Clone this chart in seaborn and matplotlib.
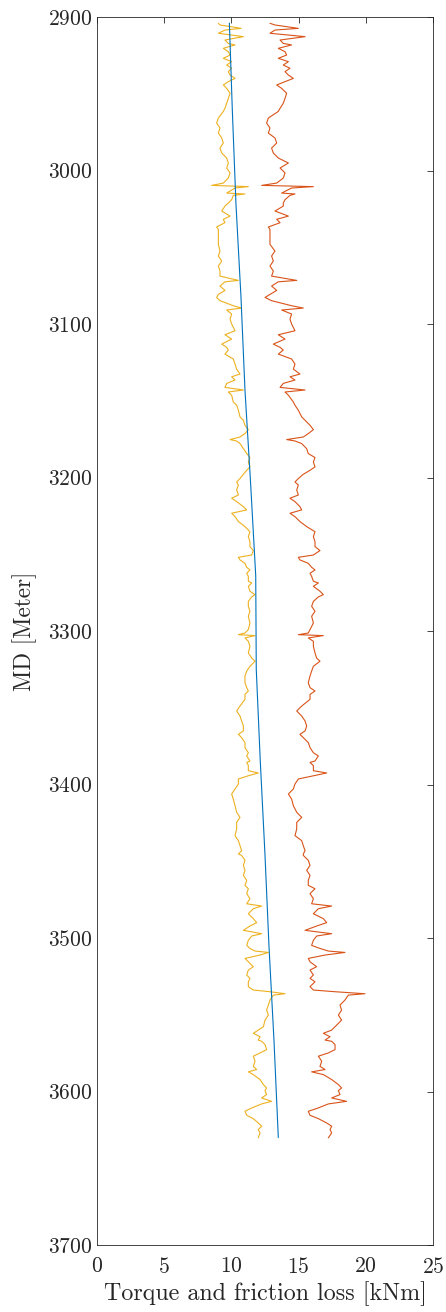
import numpy as np
import pandas as pd
import matplotlib
matplotlib.use("Agg")
import matplotlib.pyplot as plt
import seaborn as sns

# measured depth [m] shared by the two measured traces
md = [
    2904.1, 2905.2, 2907.4, 2908.5, 2910.6, 2912.8, 2915.0, 2917.2, 2918.2, 2920.4, 2922.6, 2924.8, 2926.9,
    2929.1, 2931.3, 2933.4, 2935.6, 2937.8, 2940.0, 2942.1, 2944.3, 2946.5, 2949.7, 2953.0, 2956.2, 2959.5,
    2961.5, 2965.8, 2969.1, 2972.3, 2975.6, 2978.8, 2982.1, 2985.4, 2988.6, 2991.9, 2995.1, 2998.4, 3001.6,
    3004.9, 3008.2, 3009.7, 3010.5, 3011.4, 3014.7, 3015.3, 3016.2, 3019.0, 3021.2,
    3023.2, 3026.4, 3029.7, 3031.8, 3034.0, 3036.8, 3038.4, 3041.6, 3048.1, 3052.5, 3055.7, 3059.0, 3062.2,
    3065.5, 3068.8, 3071.6, 3072.5, 3075.3, 3078.1, 3080.7,
    3082.7, 3084.8, 3088.1, 3089.6, 3090.9, 3093.5, 3096.8, 3100.0, 3104.4, 3107.0, 3109.8, 3113.1, 3115.2,
    3117.0, 3119.6, 3122.8, 3126.1, 3129.4, 3132.6, 3134.4, 3136.5, 3138.7, 3141.3, 3143.0,
    3144.3, 3146.4, 3150.8, 3152.9, 3156.2, 3160.5, 3162.7, 3166.0, 3168.8, 3171.4, 3173.6, 3175.3, 3176.2,
    3177.9, 3181.2, 3184.4, 3187.0, 3189.9, 3193.1, 3195.3, 3197.9, 3200.7, 3202.9,
    3204.9, 3208.1, 3211.4, 3213.5, 3215.7, 3219.0, 3221.1, 3223.3, 3225.5, 3228.7, 3232.0, 3235.3, 3238.5,
    3241.8, 3245.0, 3247.6, 3250.5, 3252.0, 3253.7, 3255.9, 3258.5, 3260.2, 3262.4,
    3264.4, 3267.6, 3268.7, 3270.9, 3274.1, 3276.3, 3277.8, 3280.7, 3283.9, 3287.2, 3290.4, 3294.8, 3299.1,
    3301.3, 3302.4, 3303.0, 3304.5, 3306.7, 3310.0, 3314.3, 3317.6, 3319.7, 3323.0,
    3326.1, 3329.3, 3333.7, 3336.9, 3339.1, 3341.3, 3344.5, 3348.9, 3352.1, 3355.4, 3358.6, 3361.9, 3365.1,
    3367.3, 3369.5, 3372.7, 3376.0, 3379.3, 3381.4, 3384.7,
    3385.6, 3387.7, 3391.0, 3392.5, 3394.3, 3396.4, 3399.7, 3402.9, 3406.2, 3409.5, 3413.8, 3418.1, 3421.4,
    3424.7, 3429.0, 3433.3, 3436.6, 3439.9, 3443.1, 3445.3,
    3446.2, 3449.4, 3452.7, 3455.9, 3459.2, 3462.5, 3465.7, 3467.9, 3471.1, 3474.4, 3477.7, 3479.2, 3480.9,
    3484.2, 3487.4, 3490.0, 3492.2, 3495.0, 3497.2, 3498.7, 3501.5, 3504.8,
    3506.8, 3508.5, 3509.4, 3511.1, 3513.3, 3515.5, 3518.7, 3520.9, 3524.1, 3526.3, 3528.5, 3531.7, 3533.9,
    3535.0, 3536.3, 3537.2, 3540.4, 3543.7, 3547.0, 3550.2, 3553.5, 3557.8, 3560.0, 3562.1, 3564.3, 3566.5,
    3567.3, 3569.4, 3572.7, 3574.9, 3577.0, 3580.3, 3583.6, 3585.7, 3587.2, 3589.0, 3592.2, 3595.5, 3597.7,
    3599.4, 3602.0, 3604.2, 3606.4, 3608.1, 3610.7, 3612.9, 3615.5, 3617.7, 3620.5, 3622.6, 3624.8, 3627.0,
    3630.2,
]

# measured surface torque [kNm] (red)
torque = [
    12.87, 13.24, 14.98, 13.24, 12.87, 15.48, 13.62, 13.86, 14.48, 13.49, 13.99, 14.11, 13.49,
    14.24, 13.86, 14.36, 13.99, 14.24, 14.61, 13.99, 13.37, 13.74, 14.11, 13.99, 13.86, 13.62,
    13.49, 12.75, 12.62, 12.87, 12.75, 13.24, 13.37, 12.99, 13.12, 13.49, 14.24, 13.62, 13.99,
    13.86, 13.37, 12.25, 16.10, 14.48, 13.74, 14.73, 14.36, 13.99, 13.86,
    13.86, 13.24, 14.24, 13.37, 13.62, 12.75, 12.87, 12.87, 12.87, 13.24, 12.99, 13.12, 12.87,
    13.12, 12.99, 14.86, 13.49, 12.99, 13.37, 12.87,
    12.50, 12.99, 14.48, 15.35, 13.74, 14.48, 14.36, 14.48, 14.73, 13.49, 13.99, 13.12, 13.62,
    13.86, 13.49, 14.48, 14.73, 14.61, 15.10, 14.36, 14.73, 13.86, 13.62, 15.48,
    13.99, 14.24, 14.61, 14.73, 14.98, 15.23, 15.48, 15.85, 16.10, 15.72, 15.35, 14.11, 14.73,
    15.23, 15.60, 15.72, 16.22, 16.10, 16.22, 15.85, 15.35, 14.98, 14.73,
    14.98, 14.86, 14.98, 14.36, 14.73, 15.10, 15.23, 14.36, 14.73, 15.10, 15.60, 16.22, 16.10,
    16.22, 16.22, 16.59, 16.10, 14.98, 15.10, 15.72, 15.97, 16.22, 15.85,
    15.97, 16.10, 16.47, 16.10, 16.59, 16.84, 16.47, 16.10, 15.97, 16.22, 15.97, 16.10, 15.85,
    15.72, 14.98, 16.84, 15.72, 16.10, 16.10, 16.22, 16.34, 16.59, 16.10,
    15.97, 15.85, 15.72, 15.85, 16.22, 15.85, 15.85, 15.23, 14.86, 15.23, 15.48, 15.60, 15.48,
    15.10, 15.35, 15.72, 15.85, 16.10, 16.47, 16.22,
    15.85, 16.10, 16.10, 17.09, 16.10, 14.98, 14.73, 14.61, 14.24, 14.48, 14.61, 14.86, 15.23,
    14.86, 14.86, 14.73, 15.23, 15.35, 15.48, 15.35,
    15.35, 15.72, 15.85, 15.60, 15.85, 15.72, 15.72, 16.22, 15.85, 16.10, 15.97, 17.46, 16.47,
    16.10, 16.84, 17.09, 16.34, 15.48, 17.46, 16.34, 16.10, 15.97,
    16.59, 17.21, 18.45, 16.97, 15.72, 15.85, 16.34, 15.85, 16.10, 15.85, 16.22, 15.85, 16.10,
    17.71, 19.94, 18.70, 18.45, 18.08, 18.20, 17.96, 18.20, 17.71, 17.46, 16.84, 17.34, 16.97,
    17.46, 17.71, 17.71, 17.21, 16.47, 16.72, 16.59, 16.97, 15.97, 16.84, 17.46, 17.96, 18.20,
    17.96, 18.08, 17.46, 18.57, 17.21, 16.47, 15.72, 15.85, 16.47, 17.09, 17.46, 17.34, 17.46,
    17.21,
]

# friction loss [kNm] (yellow)
friction = [
    9.03, 9.15, 10.72, 9.52, 9.03, 10.89, 9.52, 9.77, 10.27, 9.40, 9.77, 9.90, 9.40,
    10.02, 9.65, 10.02, 9.77, 9.90, 10.27, 9.77, 9.40, 9.65, 9.90, 9.77, 9.65, 9.52,
    9.40, 9.03, 8.90, 9.15, 9.03, 9.28, 9.40, 9.15, 9.28, 9.65, 9.77, 9.65, 9.90,
    9.77, 9.40, 8.53, 11.26, 10.27, 9.65, 11.01, 10.14, 10.02, 9.77,
    9.52, 9.28, 9.90, 9.40, 9.52, 8.90, 9.03, 9.03, 9.03, 9.15, 9.03, 9.28, 9.03,
    9.15, 9.15, 10.52, 9.52, 9.15, 9.52, 9.03,
    8.90, 9.15, 10.14, 10.76, 9.65, 10.02, 9.90, 10.02, 10.27, 9.52, 10.02, 9.28, 9.65,
    9.77, 9.52, 10.14, 10.27, 10.39, 10.64, 10.02, 10.27, 9.65, 9.52, 10.89,
    9.77, 10.02, 10.14, 10.39, 10.52, 10.64, 10.89, 11.01, 11.26, 11.01, 10.64, 9.90, 10.39,
    10.64, 10.89, 11.14, 11.38, 11.26, 11.38, 11.14, 10.89, 10.64, 10.39,
    10.52, 10.39, 10.52, 10.02, 10.39, 10.89, 11.14, 10.02, 10.27, 10.52, 11.01, 11.38, 11.26,
    11.38, 11.38, 11.63, 11.51, 10.52, 10.64, 11.01, 11.14, 11.38, 11.14,
    11.26, 11.26, 11.51, 11.26, 11.38, 11.76, 11.51, 11.26, 11.26, 11.38, 11.26, 11.38, 11.26,
    11.01, 10.52, 11.76, 11.01, 11.26, 11.38, 11.26, 11.51, 11.76, 11.38,
    11.14, 11.01, 11.01, 11.14, 11.26, 11.01, 11.01, 10.64, 10.39, 10.64, 10.76, 10.89, 10.89,
    10.52, 10.76, 11.01, 11.01, 11.26, 11.14, 11.38,
    11.14, 11.26, 11.26, 12.00, 11.26, 10.52, 10.52, 10.27, 10.02, 10.14, 10.27, 10.39, 10.64,
    10.39, 10.39, 10.27, 10.52, 10.64, 10.76, 10.52,
    10.76, 11.01, 10.89, 11.01, 10.89, 11.14, 11.01, 11.26, 11.14, 11.38, 11.14, 12.25, 11.63,
    11.26, 11.63, 11.88, 11.38, 10.89, 12.25, 11.51, 11.26, 11.14,
    11.38, 11.76, 12.75, 12.13, 11.01, 11.26, 11.63, 11.26, 11.14, 11.38, 11.26, 11.26, 11.63,
    12.87, 13.99, 13.12, 12.87, 12.75, 12.62, 12.75, 12.50, 12.38, 12.00, 11.63, 12.13, 12.00,
    12.25, 12.50, 12.62, 12.13, 11.63, 11.76, 11.63, 11.88, 11.26, 11.63, 12.13, 12.38, 12.62,
    12.50, 12.62, 12.25, 12.99, 12.25, 11.51, 11.01, 11.14, 11.63, 12.00, 12.25, 12.00, 12.13,
    12.00,
]

# modelled torque (blue)
md_model = [2904, 2961, 3022, 3082, 3143, 3204, 3264, 3325, 3385, 3446, 3506, 3567, 3630]
torque_model = [9.85, 10.07, 10.34, 10.71, 11.01, 11.43, 11.81, 11.85, 12.15, 12.50, 12.80, 13.17, 13.49]

x_ticks = [0, 5, 10, 15, 20, 25]
y_ticks = [2900, 3000, 3100, 3200, 3300, 3400, 3500, 3600, 3700]

measured = pd.DataFrame({"md": md, "torque": torque, "friction": friction})
model = pd.DataFrame({"md": md_model, "torque": torque_model})

sns.set_style("white")
plt.rcParams["font.family"] = ["cmr10", "DejaVu Serif"]
plt.rcParams["axes.formatter.use_mathtext"] = True
plt.rcParams["mathtext.fontset"] = "cm"

fig = plt.figure(figsize=(4.46, 13.12), dpi=100)
ax = fig.add_axes([97 / 446, 67 / 1312, 336 / 446, 1228 / 1312])

lw = 0.8
sns.lineplot(data=measured, x="torque", y="md", sort=False, estimator=None,
             color="#D95319", linewidth=lw, ax=ax)
sns.lineplot(data=measured, x="friction", y="md", sort=False, estimator=None,
             color="#EDB120", linewidth=lw, ax=ax)
sns.lineplot(data=model, x="torque", y="md", sort=False, estimator=None,
             color="#0072BD", linewidth=lw, ax=ax)

ax.set_xlim(0, 25)
ax.set_ylim(3700, 2900)
ax.set_xticks(x_ticks)
ax.set_yticks(y_ticks)
ax.set_xlabel("Torque and friction loss [kNm]", fontsize=17.3, color="#262626", labelpad=3)
ax.set_ylabel("MD [Meter]", fontsize=16.8, color="#262626", labelpad=8)

for spine in ax.spines.values():
    spine.set_visible(True)
    spine.set_color("#262626")
    spine.set_linewidth(0.6)
ax.tick_params(direction="in", top=True, right=True, length=4, width=0.6,
               color="#262626", labelcolor="#262626", labelsize=15.5)
ax.tick_params(axis="x", pad=8.5)

fig.savefig("out.png", dpi=100)
